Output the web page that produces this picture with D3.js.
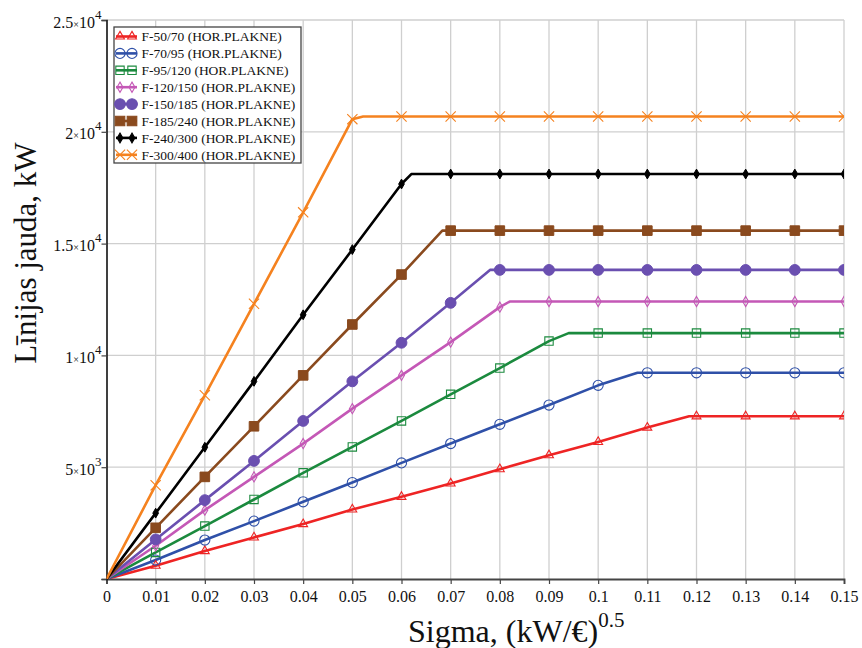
<!DOCTYPE html>
<html>
<head>
<meta charset="utf-8">
<script src="https://cdn.jsdelivr.net/npm/d3@7"></script>
<style>
  html, body { margin: 0; padding: 0; background: #fff; }
  svg { display: block; font-family: "Liberation Serif", "Times New Roman", serif; }
</style>
</head>
<body>
<svg id="chart" width="862" height="648"></svg>
<script>
// ---- data ----
const sigma = [0, 0.01, 0.02, 0.03, 0.04, 0.05, 0.06, 0.07, 0.08, 0.09, 0.10, 0.11, 0.12, 0.13, 0.14, 0.15];
const seriesNames = [
  "F-50/70 (HOR.PLAKNE)", "F-70/95 (HOR.PLAKNE)", "F-95/120 (HOR.PLAKNE)", "F-120/150 (HOR.PLAKNE)",
  "F-150/185 (HOR.PLAKNE)", "F-185/240 (HOR.PLAKNE)", "F-240/300 (HOR.PLAKNE)", "F-300/400 (HOR.PLAKNE)"
];
const f50_70   = [0, 595, 1250, 1860, 2455, 3110, 3675, 4271, 4910, 5535, 6130, 6771, 7277, 7277, 7277, 7277];
const f70_95   = [0, 848, 1741, 2589, 3452, 4315, 5193, 6057, 6919, 7780, 8660, 9222, 9222, 9222, 9222, 9222];
const f95_120  = [0, 1190, 2366, 3556, 4747, 5908, 7068, 8258, 9434, 10640, 10997, 10997, 10997, 10997, 10997, 10997];
const f120_150 = [0, 1488, 3080, 4567, 6057, 7619, 9107, 10595, 12157, 12410, 12410, 12410, 12410, 12410, 12410, 12410];
const f150_185 = [0, 1771, 3527, 5282, 7068, 8839, 10565, 12350, 13823, 13823, 13823, 13823, 13823, 13823, 13823, 13823];
const f185_240 = [0, 2290, 4567, 6830, 9107, 11383, 13616, 15580, 15580, 15580, 15580, 15580, 15580, 15580, 15580, 15580];
const f240_300 = [0, 2946, 5893, 8839, 11816, 14732, 17664, 18111, 18111, 18111, 18111, 18111, 18111, 18111, 18111, 18111];
const f300_400 = [0, 4196, 8214, 12307, 16397, 20566, 20682, 20682, 20682, 20682, 20682, 20682, 20682, 20682, 20682, 20682];
// sigma at which each curve reaches its plateau
const kneeSigma = [0.1185, 0.108, 0.094, 0.082, 0.078, 0.0683, 0.062, 0.0522];
const xTicks = [0, 0.01, 0.02, 0.03, 0.04, 0.05, 0.06, 0.07, 0.08, 0.09, 0.1, 0.11, 0.12, 0.13, 0.14, 0.15];
const xTickLabels = ["0", "0.01", "0.02", "0.03", "0.04", "0.05", "0.06", "0.07", "0.08", "0.09", "0.1", "0.11", "0.12", "0.13", "0.14", "0.15"];
const yTicks = [5000, 10000, 15000, 20000, 25000];
const yTickMantissa = ["5", "1", "1.5", "2", "2.5"];
const yTickExponent = ["3", "4", "4", "4", "4"];

// ---- styling ----
const allValues = [f50_70, f70_95, f95_120, f120_150, f150_185, f185_240, f240_300, f300_400];
const colors = ["#ee2424", "#2f50a8", "#1b8a3e", "#c458b6", "#6a4fb0", "#8a4a1e", "#000000", "#f5821f"];
const markerType = [
  {sym: d3.symbolTriangle, size: 34, fill: false},
  {sym: d3.symbolCircle, size: 80, fill: false},
  {sym: d3.symbolSquare, size: 70, fill: false},
  {sym: d3.symbolDiamond, size: 30, fill: false},
  {sym: d3.symbolCircle, size: 92, fill: true},
  {sym: d3.symbolSquare, size: 92, fill: true},
  {sym: d3.symbolDiamond, size: 28, fill: true},
  {sym: d3.symbolTimes, size: 70, fill: false}
];

const svg = d3.select("#chart");
const x = d3.scaleLinear().domain([0, 0.15]).range([106.5, 844]);
const y = d3.scaleLinear().domain([0, 25000]).range([579, 20]);

// clip
svg.append("defs").append("clipPath").attr("id", "plotclip")
  .append("rect").attr("x", x(0)).attr("y", y(25000) - 1)
  .attr("width", x(0.15) - x(0)).attr("height", y(0) - y(25000) + 1);

// grid
const grid = svg.append("g");
grid.selectAll("line.v").data(xTicks.slice(1)).join("line")
  .attr("x1", d => x(d)).attr("x2", d => x(d))
  .attr("y1", y(0)).attr("y2", y(25000))
  .attr("stroke", "#cfcfcf").attr("stroke-width", 1.3);
grid.selectAll("line.h").data(yTicks).join("line")
  .attr("x1", x(0)).attr("x2", x(0.15))
  .attr("y1", d => y(d)).attr("y2", d => y(d))
  .attr("stroke", "#cfcfcf").attr("stroke-width", 1.3);

// axes
const xAxis = d3.axisBottom(x).tickValues(xTicks).tickSize(5).tickFormat((d, i) => xTickLabels[i]);
const gx = svg.append("g").attr("transform", `translate(0,${y(0)})`).call(xAxis);
gx.select(".domain").attr("stroke", "#444").attr("stroke-width", 1.8);
gx.selectAll(".tick line").attr("stroke", "#444").attr("stroke-width", 1.2);
gx.selectAll(".tick text").attr("font-family", "Liberation Serif").attr("font-size", 16)
  .attr("fill", "#111").attr("dy", 0).attr("y", 23);

const yAxis = d3.axisLeft(y).tickValues([0].concat(yTicks)).tickSize(5).tickFormat("");
const gy = svg.append("g").attr("transform", `translate(${x(0)},0)`).call(yAxis);
gy.select(".domain").attr("stroke", "#111").attr("stroke-width", 1.6);
gy.selectAll(".tick line").attr("stroke", "#444").attr("stroke-width", 1.2);

// y tick labels with ×10^n
const ylab = svg.append("g");
yTicks.forEach((t, i) => {
  const tx = ylab.append("text")
    .attr("x", x(0) - 5).attr("y", y(t) + 7.5)
    .attr("text-anchor", "end").attr("font-size", 16).attr("fill", "#111");
  tx.append("tspan").text(yTickMantissa[i]);
  tx.append("tspan").attr("font-size", 10).text("×");
  tx.append("tspan").text("10");
  tx.append("tspan").attr("font-size", 13).attr("dy", -9).text(yTickExponent[i]);
});

// series
const plot = svg.append("g").attr("clip-path", "url(#plotclip)");
const line = d3.line().x(d => x(d[0])).y(d => y(d[1]));
allValues.forEach((vals, si) => {
  const plateau = vals[vals.length - 1];
  const pts = sigma.map((s, i) => [s, vals[i]]).filter(p => p[0] < kneeSigma[si] || p[0] > kneeSigma[si]);
  pts.push([kneeSigma[si], plateau]);
  pts.sort((a, b) => a[0] - b[0]);
  plot.append("path").datum(pts).attr("d", line)
    .attr("fill", "none").attr("stroke", colors[si]).attr("stroke-width", 2.6)
    .attr("stroke-linejoin", "round");
});
allValues.forEach((vals, si) => {
  const m = markerType[si];
  const sym = d3.symbol().type(m.sym).size(m.size);
  plot.selectAll(null).data(sigma.map((s, i) => [s, vals[i]]).slice(1)).join("path")
    .attr("transform", d => `translate(${x(d[0])},${y(d[1])})`)
    .attr("d", sym)
    .attr("fill", m.fill ? colors[si] : "none")
    .attr("stroke", colors[si]).attr("stroke-width", m.fill ? 1 : 1.1);
});

// legend
const lg = svg.append("g");
lg.append("rect").attr("x", 114).attr("y", 27).attr("width", 187).attr("height", 136)
  .attr("fill", "#fff").attr("stroke", "#444").attr("stroke-width", 1.3);
seriesNames.forEach((name, si) => {
  const cy = 36.5 + si * 16.9;
  lg.append("line").attr("x1", 116).attr("x2", 137).attr("y1", cy).attr("y2", cy)
    .attr("stroke", colors[si]).attr("stroke-width", 2.6);
  const m = markerType[si];
  const sym = d3.symbol().type(m.sym).size(m.size);
  [120, 132].forEach(mx => {
    lg.append("path").attr("transform", `translate(${mx},${cy})`).attr("d", sym)
      .attr("fill", m.fill ? colors[si] : "none")
      .attr("stroke", colors[si]).attr("stroke-width", 1.1);
  });
  lg.append("text").attr("x", 141.5).attr("y", cy + 4.7)
    .attr("font-size", 13.5).attr("fill", "#111").text(name);
});

// axis titles
const xt = svg.append("text").attr("x", 408).attr("y", 641.5)
  .attr("font-size", 32).attr("fill", "#111");
xt.append("tspan").text("Sigma, (kW/€)");
xt.append("tspan").attr("font-size", 21).attr("dy", -15).text("0.5");

svg.append("text").attr("transform", "translate(36,253) rotate(-90)")
  .attr("text-anchor", "middle").attr("font-size", 31).attr("fill", "#111")
  .text("Līnijas jauda, kW");
</script>
</body>
</html>
